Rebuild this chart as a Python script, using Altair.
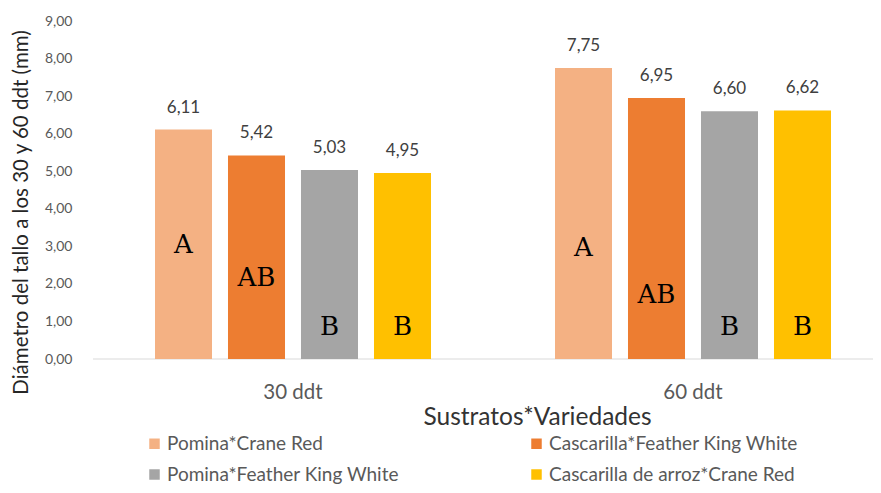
import altair as alt
import pandas as pd

periods = ["30 ddt", "60 ddt"]
series = [
    "Pomina*Crane Red",
    "Cascarilla*Feather King White",
    "Pomina*Feather King White",
    "Cascarilla de arroz*Crane Red",
]
colors = ["#F4B183", "#ED7D31", "#A5A5A5", "#FFC000"]
values_30 = [6.11, 5.42, 5.03, 4.95]
values_60 = [7.75, 6.95, 6.60, 6.62]
letters_30 = ["A", "AB", "B", "B"]
letters_60 = ["A", "AB", "B", "B"]
letter_y_30 = [3.04, 2.16, 0.85, 0.85]
letter_y_60 = [2.96, 1.70, 0.85, 0.85]
y_ticks = [0, 1, 2, 3, 4, 5, 6, 7, 8, 9]

rows = []
for p, vals, lets, ly in [
    (periods[0], values_30, letters_30, letter_y_30),
    (periods[1], values_60, letters_60, letter_y_60),
]:
    for s, v, l, y in zip(series, vals, lets, ly):
        rows.append({"periodo": p, "serie": s, "valor": v, "letra": l, "letra_y": y})
df = pd.DataFrame(rows)

# legend fills row by row: order the domain so the columns match the reference
legend_order = [series[0], series[2], series[1], series[3]]
legend_colors = [colors[0], colors[2], colors[1], colors[3]]

FONT = "Lato"
W, H = 780, 338

x_enc = alt.X(
    "periodo:N",
    sort=periods,
    scale=alt.Scale(paddingInner=0.1, paddingOuter=0.025, align=1),
    axis=alt.Axis(
        title="Sustratos*Variedades",
        labelAngle=0,
        domain=False,
        ticks=False,
        tickSize=0,
        labelPadding=23,
        labelFontSize=20.5,
        labelColor="#595959",
        labelFont=FONT,
        titleFont=FONT,
        titleFontSize=24.5,
        titleFontWeight="normal",
        titleColor="#333333",
        titleX=444,
        titleY=58,
        titleBaseline="middle",
        titleAlign="center",
    ),
)
xo_enc = alt.XOffset(
    "serie:N",
    sort=series,
    scale=alt.Scale(paddingInner=0.219, paddingOuter=0.5753),
)
y_scale = alt.Scale(domain=[0, 9], nice=False)
y_axis = alt.Axis(
    title="Diámetro del tallo  a los  30 y 60 ddt  (mm)",
    values=y_ticks,
    labelExpr="replace(format(datum.value, '.2f'), '.', ',')",
    labelOverlap=False,
    grid=False,
    domain=False,
    ticks=False,
    tickSize=0,
    labelPadding=21,
    labelFontSize=14,
    labelColor="#595959",
    labelFont=FONT,
    titleFont=FONT,
    titleFontSize=20.5,
    titleFontWeight="normal",
    titleColor="#262626",
    titleX=-72,
    titleY=191,
    titleAngle=270,
    titleAlign="center",
    titleBaseline="middle",
)

base = alt.Chart(df).encode(x=x_enc, xOffset=xo_enc)

bars = base.mark_bar().encode(
    y=alt.Y("valor:Q", scale=y_scale, axis=y_axis),
    color=alt.Color(
        "serie:N",
        scale=alt.Scale(domain=legend_order, range=legend_colors),
        legend=alt.Legend(
            title=None,
            orient="none",
            legendX=52,
            legendY=413,
            columns=2,
            columnPadding=127,
            rowPadding=11,
            symbolType="square",
            symbolSize=110,
            symbolStrokeWidth=0,
            labelFontSize=19,
            labelFont=FONT,
            labelColor="#595959",
            labelOffset=3,
            labelLimit=400,
            padding=0,
        ),
    ),
)

value_labels = base.transform_calculate(
    etiqueta="replace(format(datum.valor, '.2f'), '.', ',')"
).mark_text(
    dy=-22, fontSize=17, font=FONT, color="#404040", baseline="middle"
).encode(
    y=alt.Y("valor:Q", scale=y_scale, axis=y_axis),
    text="etiqueta:N",
)

letters = base.mark_text(
    fontSize=26, font="DejaVu Serif", color="#000000", baseline="middle"
).encode(
    y=alt.Y("letra_y:Q", scale=y_scale, axis=y_axis),
    text="letra:N",
)

baseline = alt.Chart(pd.DataFrame({"v": [0]})).mark_rule(
    color="#D9D9D9", strokeWidth=1
).encode(
    y=alt.Y("v:Q", scale=y_scale, axis=y_axis),
    x=alt.value(0),
    x2=alt.value(W),
)

chart = (
    alt.layer(baseline, bars, value_labels, letters)
    .properties(
        width=W,
        height=H,
        autosize=alt.AutoSizeParams(type="none"),
        padding={"left": 85, "top": 13, "right": 0, "bottom": 126},
    )
    .configure_view(stroke=None)
)

chart.save("out.html", embed_options={"renderer": "svg", "actions": False})
